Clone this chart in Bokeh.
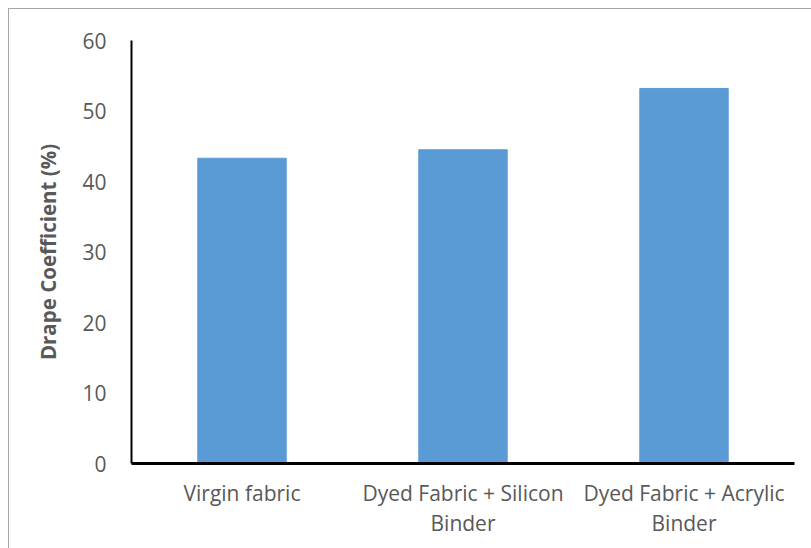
from bokeh.plotting import figure
from bokeh.models import FactorRange, Range1d, FixedTicker
from bokeh.embed import file_html
from bokeh.resources import INLINE

categories = ["Virgin fabric", "Dyed Fabric + Silicon\nBinder", "Dyed Fabric + Acrylic\nBinder"]
drape = [43.3, 44.5, 53.2]
y_ticks = [0, 10, 20, 30, 40, 50, 60]

FONT = "Open Sans"
GRAY = "#595959"

p = figure(
    x_range=FactorRange(*categories, range_padding=0),
    y_range=Range1d(0, 60),
    width=802, height=539,
    frame_width=663, frame_height=423,
    min_border_left=122, min_border_right=17,
    min_border_top=31, min_border_bottom=85,
    output_backend="svg", toolbar_location=None,
)
p.styles = {
    "margin-left": "8px", "margin-top": "8px",
    "border-left": "1px solid #a6a6a6", "border-top": "1px solid #a6a6a6",
}

p.vbar(x=categories, top=drape, width=0.4, fill_color="#5B9BD5", line_color="#5B9BD5")

p.outline_line_color = None
p.xgrid.grid_line_color = None
p.ygrid.grid_line_color = None

p.yaxis.ticker = FixedTicker(ticks=y_ticks)
p.yaxis.axis_line_color = "black"
p.yaxis.axis_line_width = 2
p.yaxis.major_tick_line_color = None
p.yaxis.minor_tick_line_color = None
p.yaxis.major_label_text_font = FONT
p.yaxis.major_label_text_font_size = "21px"
p.yaxis.major_label_text_color = GRAY
p.yaxis.major_label_standoff = 19
p.yaxis.axis_label = "Drape Coefficient (%)"
p.yaxis.axis_label_text_font = FONT
p.yaxis.axis_label_text_font_size = "20.5px"
p.yaxis.axis_label_text_font_style = "bold"
p.yaxis.axis_label_text_color = GRAY
p.yaxis.axis_label_standoff = 17

p.xaxis.axis_line_color = "black"
p.xaxis.axis_line_width = 3
p.xaxis.major_tick_line_color = None
p.xaxis.minor_tick_line_color = None
p.xaxis.major_label_text_font = FONT
p.xaxis.major_label_text_font_size = "21px"
p.xaxis.major_label_text_color = GRAY
p.xaxis.major_label_text_line_height = 1.1
p.xaxis.major_label_standoff = 9

open("out.html", "w").write(file_html(p, INLINE))
